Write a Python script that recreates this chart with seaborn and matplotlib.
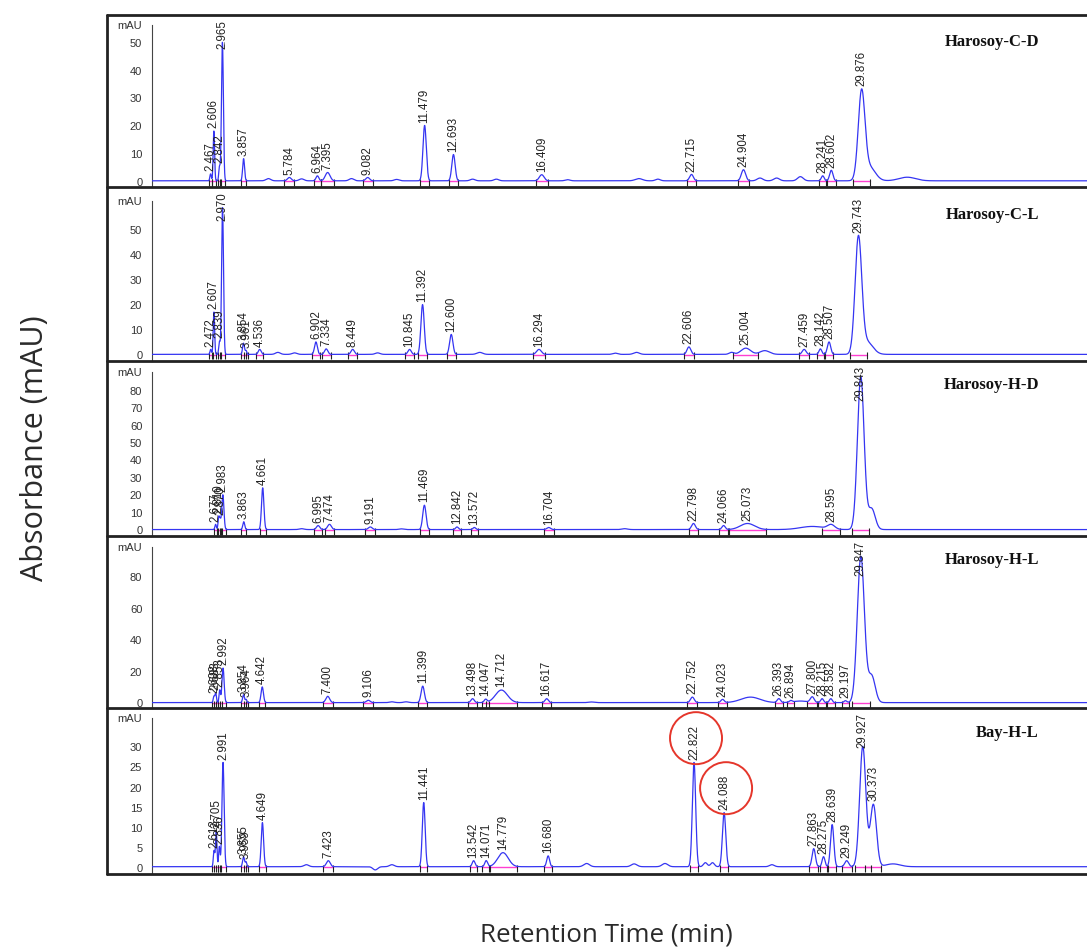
import numpy as np
import pandas as pd
import matplotlib
matplotlib.use("Agg")
import matplotlib.pyplot as plt
import seaborn as sns
from matplotlib.lines import Line2D
from matplotlib.patches import Ellipse
from matplotlib.ticker import MultipleLocator

# ---------------- DATA ----------------
sample_names = ["Harosoy-C-D", "Harosoy-C-L", "Harosoy-H-D", "Harosoy-H-L", "Bay-H-L"]

# Harosoy-C-D : labelled peaks (retention time, height mAU, width min)
p1_rt = [2.467, 2.606, 2.842, 2.965, 3.857, 5.784, 6.964, 7.395, 9.082, 11.479, 12.693,
         16.409, 22.715, 24.904, 28.241, 28.602, 29.876]
p1_h = [2.5, 18, 5, 50, 8, 1.2, 1.8, 3, 1.2, 20, 9.5, 2.2, 2.3, 4, 1.8, 3.8, 31]
p1_w = [0.03, 0.03, 0.03, 0.04, 0.04, 0.08, 0.06, 0.1, 0.08, 0.07, 0.07, 0.1, 0.08, 0.09,
        0.06, 0.07, 0.14]
# unlabelled baseline features
b1_rt = [4.9, 6.3, 8.4, 10.3, 13.5, 14.5, 17.5, 20.5, 21.3, 25.6, 26.3, 27.3, 30.2, 31.8]
b1_h = [0.8, 0.7, 0.8, 0.5, 0.6, 0.6, 0.4, 0.8, 0.6, 1.0, 1.0, 1.5, 5, 1.3]
b1_w = [0.1, 0.1, 0.1, 0.1, 0.1, 0.1, 0.1, 0.15, 0.1, 0.12, 0.12, 0.12, 0.25, 0.35]

# Harosoy-C-L
p2_rt = [2.472, 2.607, 2.839, 2.970, 3.854, 3.961, 4.536, 6.902, 7.334, 8.449, 10.845,
         11.392, 12.600, 16.294, 22.606, 25.004, 27.459, 28.142, 28.507, 29.743]
p2_h = [2, 17, 5, 59, 4.5, 1.5, 2, 5, 2.2, 2, 2, 20, 8, 2, 3, 2.5, 2, 2.2, 5, 46]
p2_w = [0.03, 0.03, 0.03, 0.04, 0.04, 0.03, 0.06, 0.06, 0.07, 0.07, 0.07, 0.07, 0.07,
        0.1, 0.08, 0.2, 0.08, 0.06, 0.07, 0.14]
b2_rt = [5.3, 6.0, 9.5, 13.8, 19.5, 20.4, 24.4, 25.8, 30.1]
b2_h = [0.8, 0.6, 0.6, 0.8, 0.5, 0.8, 0.8, 1.5, 5]
b2_w = [0.1, 0.1, 0.1, 0.12, 0.1, 0.12, 0.1, 0.2, 0.25]

# Harosoy-H-D
p3_rt = [2.677, 2.810, 2.870, 2.983, 3.863, 4.661, 6.995, 7.474, 9.191, 11.469, 12.842,
         13.572, 16.704, 22.798, 24.066, 25.073, 28.595, 29.843]
p3_h = [3, 7, 5, 20, 4.5, 24, 2.3, 3, 1.5, 14, 1.5, 1.2, 1.2, 3.5, 2.3, 3.5, 2.5, 88]
p3_w = [0.03, 0.03, 0.03, 0.045, 0.04, 0.05, 0.07, 0.08, 0.08, 0.07, 0.06, 0.06, 0.08,
        0.08, 0.07, 0.3, 0.15, 0.14]
b3_rt = [6.3, 10.5, 19.9, 27.8, 30.3]
b3_h = [0.5, 0.4, 0.5, 1.8, 12]
b3_w = [0.1, 0.1, 0.12, 0.5, 0.15]

# Harosoy-H-L
p4_rt = [2.608, 2.683, 2.853, 2.992, 3.854, 3.964, 4.642, 7.400, 9.106, 11.399, 13.498,
         14.047, 14.712, 16.617, 22.752, 24.023, 26.393, 26.894, 27.800, 28.215, 28.582,
         29.197, 29.847]
p4_h = [4, 6, 8, 22, 5, 2, 10, 4, 1.5, 10.5, 2.5, 2, 8, 2.5, 3.5, 2, 2.5, 1, 3.5, 2.5,
        2.5, 1.2, 93]
p4_w = [0.03, 0.03, 0.03, 0.045, 0.04, 0.03, 0.05, 0.08, 0.08, 0.07, 0.07, 0.06, 0.25,
        0.07, 0.08, 0.07, 0.07, 0.06, 0.08, 0.06, 0.06, 0.06, 0.15]
b4_rt = [10.1, 10.7, 18.5, 25.2, 27.3, 30.3]
b4_h = [0.5, 0.5, 0.4, 3.5, 1.0, 17]
b4_w = [0.1, 0.1, 0.12, 0.4, 0.3, 0.15]

# Bay-H-L
p5_rt = [2.613, 2.705, 2.836, 2.991, 3.855, 3.959, 4.649, 7.423, 11.441, 13.542, 14.071,
         14.779, 16.680, 22.822, 24.088, 27.863, 28.275, 28.639, 29.249, 29.927, 30.373]
p5_h = [4, 9, 5, 26, 2.5, 1.2, 11, 1.5, 16, 1.5, 1.5, 3.5, 2.7, 26, 13.5, 4.5, 2.5, 10.5,
        1.5, 30, 15.5]
p5_w = [0.03, 0.03, 0.03, 0.045, 0.04, 0.03, 0.05, 0.08, 0.06, 0.06, 0.06, 0.22, 0.06,
        0.07, 0.07, 0.07, 0.06, 0.07, 0.08, 0.13, 0.13]
b5_rt = [6.5, 9.4, 10.1, 18.3, 20.3, 21.6, 23.3, 23.6, 26.1, 31.2]
b5_h = [0.5, -0.8, 0.5, 0.8, 0.7, 0.8, 1.0, 1.0, 0.5, 0.7]
b5_w = [0.1, 0.1, 0.1, 0.12, 0.12, 0.12, 0.08, 0.08, 0.1, 0.3]

circled_peaks = [22.822, 24.088]

y_major = [[0, 10, 20, 30, 40, 50], [0, 10, 20, 30, 40, 50],
           [0, 10, 20, 30, 40, 50, 60, 70, 80], [0, 20, 40, 60, 80],
           [0, 5, 10, 15, 20, 25, 30]]
y_minor_step = [2, 2, 2, 5, 1]

# ---------------- LAYOUT ----------------
sns.set_style("white")
plt.rcParams['font.family'] = ['Liberation Sans', 'DejaVu Sans']

W, H = 1087, 950
fig = plt.figure(figsize=(W / 100, H / 100), dpi=100)

X0_PX, PPM, FRAME_L, AX_R = 152, 23.75, 107, 1092
bounds = [(15, 187), (187, 361), (361, 536), (536, 708), (708, 874)]
zero_px = [181.5, 355, 530, 703, 867.7]
ppu = [2.77, 2.49, 1.74, 1.57, 4.01]
mau_val = [56.5, 62, 91, 99.5, 37.3]
title_y = [42, 215, 385, 560, 733]

BLUE = "#3535f2"
PINK = "#ff3fd2"

peaks = [(p1_rt, p1_h, p1_w, b1_rt, b1_h, b1_w), (p2_rt, p2_h, p2_w, b2_rt, b2_h, b2_w),
         (p3_rt, p3_h, p3_w, b3_rt, b3_h, b3_w), (p4_rt, p4_h, p4_w, b4_rt, b4_h, b4_w),
         (p5_rt, p5_h, p5_w, b5_rt, b5_h, b5_w)]

xmax = (AX_R - X0_PX) / PPM
t = np.linspace(0, xmax, 9000)
BASE = 0.25

labels_all = []
axes = []
for i, (rt, hh, ww, brt, bh, bw) in enumerate(peaks):
    top, bot = bounds[i]
    ax = fig.add_axes([X0_PX / W, 1 - bot / H, (AX_R - X0_PX) / W, (bot - top) / H])
    axes.append(ax)
    ax.set_xlim(0, xmax)
    ylo = -(bot - zero_px[i]) / ppu[i]
    yhi = (zero_px[i] - top) / ppu[i]
    ax.set_ylim(ylo, yhi)

    y = np.full_like(t, BASE)
    for r, h, w in zip(list(rt) + list(brt), list(hh) + list(bh), list(ww) + list(bw)):
        y += h * np.exp(-0.5 * ((t - r) / w) ** 2)
    df = pd.DataFrame({"t": t, "mAU": y})

    # integration baselines (pink) and peak start/end ticks
    for r, w in zip(rt, ww):
        a, b = r - 2.6 * w, r + 2.6 * w
        ax.plot([a, b], [BASE * 0.5, BASE * 0.5], color=PINK, lw=1.0, zorder=2)
        ax.vlines([a, b], BASE - 5 / ppu[i], BASE + 2 / ppu[i], color="#222", lw=0.8, zorder=3)

    sns.lineplot(data=df, x="t", y="mAU", ax=ax, color=BLUE, lw=0.9, estimator=None,
                 sort=False, zorder=4)

    for r in rt:
        ya = np.interp(r, t, y)
        an = ax.annotate(f"{r:.3f}", xy=(r, ya), xytext=(0, 2), textcoords="offset points",
                         rotation=90, ha="center", va="bottom", fontsize=8.3, color="#222",
                         zorder=5)
        labels_all.append((i, r, an))

    # axis styling
    for s in ["top", "right", "bottom"]:
        ax.spines[s].set_visible(False)
    ax.spines["left"].set_color("#444")
    ax.spines["left"].set_linewidth(0.8)
    ax.spines["left"].set_bounds(ylo, mau_val[i])
    ax.set_xticks([])
    ax.set_yticks(y_major[i] + [mau_val[i]])
    ax.set_yticklabels([str(v) for v in y_major[i]] + ["mAU"])
    ax.yaxis.set_minor_locator(MultipleLocator(y_minor_step[i]))
    ax.tick_params(axis="y", which="major", length=5, width=0.8, color="#444",
                   labelsize=8, labelcolor="#333", pad=2)
    ax.tick_params(axis="y", which="minor", length=2.5, width=0.6, color="#444")
    ax.set_xlabel("")
    ax.set_ylabel("")
    ax.patch.set_alpha(0)

    fig.text(1039 / W, 1 - title_y[i] / H, sample_names[i], ha="right", va="center",
             fontsize=12, fontweight="bold", family=["Liberation Serif", "DejaVu Serif"],
             color="#111")

# frame
for yb in [15, 187, 361, 536, 708, 874]:
    fig.add_artist(Line2D([FRAME_L / W, 1.0], [1 - yb / H, 1 - yb / H],
                          transform=fig.transFigure, color="#222", lw=2.0, zorder=10))
fig.add_artist(Line2D([FRAME_L / W, FRAME_L / W], [1 - 15 / H, 1 - 874 / H],
                      transform=fig.transFigure, color="#222", lw=2.0, zorder=10))

ylab = fig.text(35 / W, 1 - 448 / H, "Absorbance (mAU)", rotation=90, ha="center",
                va="center", fontsize=19, family=["Open Sans", "DejaVu Sans"], color="#2a2a2a")
xlab = fig.text(606 / W, 1 - 935 / H, "Retention Time (min)", ha="center", va="center",
                fontsize=17.5, family=["Open Sans", "DejaVu Sans"], color="#2a2a2a")

# keep peak labels inside their panels
fig.canvas.draw()
renderer = fig.canvas.get_renderer()
for i, r, an in labels_all:
    bb = an.get_window_extent(renderer)
    limit = H - bounds[i][0] - 5
    if bb.y1 > limit:
        shift_px = bb.y1 - limit
        an.xyann = (0, 2 - shift_px * 72 / 100)

# scale axis titles to target lengths
for txt, target, horiz in [(ylab, 265, False), (xlab, 253, True)]:
    bb = txt.get_window_extent(renderer)
    cur = bb.width if horiz else bb.height
    txt.set_fontsize(txt.get_fontsize() * target / cur)

fig.canvas.draw()
for i, r, an in labels_all:
    if i == 4 and r in circled_peaks:
        bb = an.get_window_extent(renderer)
        cx, cy = (bb.x0 + bb.x1) / 2 + 2, (bb.y0 + bb.y1) / 2 + 4
        fig.add_artist(Ellipse((cx / W, cy / H), 52 / W, 52 / H, transform=fig.transFigure,
                               fill=False, edgecolor="#e5362b", lw=1.4, zorder=11))

fig.savefig("out.png", dpi=100)
